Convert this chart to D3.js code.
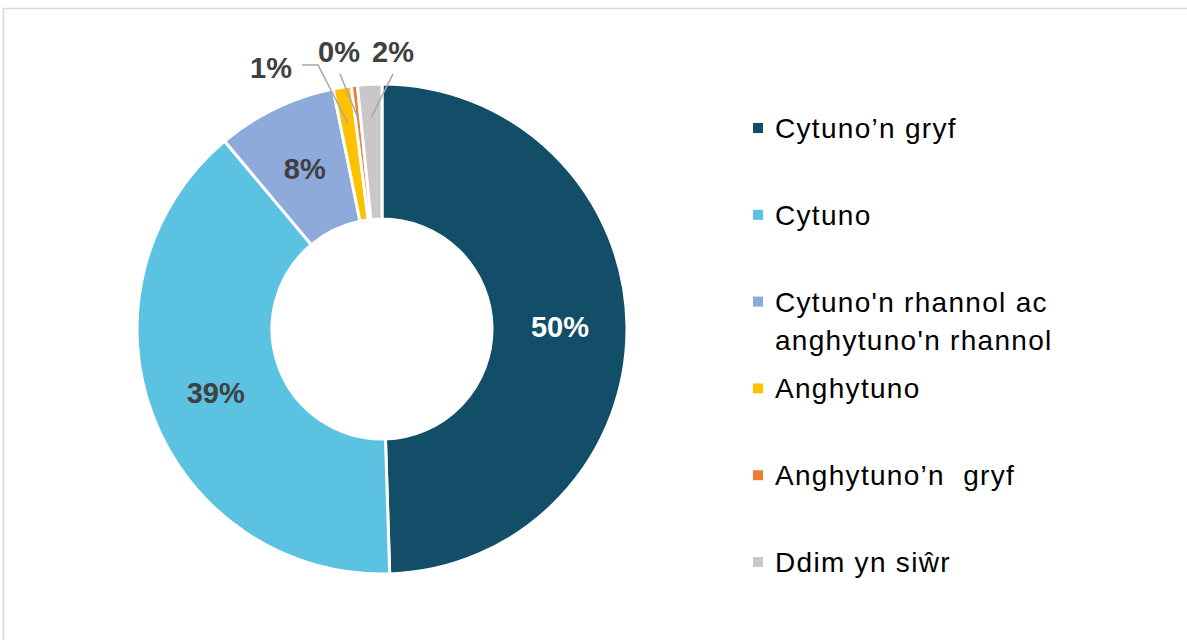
<!DOCTYPE html>
<html>
<head>
<meta charset="utf-8">
<script src="https://cdn.jsdelivr.net/npm/d3@7"></script>
<style>
  html, body { margin: 0; padding: 0; background: #fff; }
  svg { display: block; font-family: "Liberation Sans", Arial, sans-serif; }
</style>
</head>
<body>
<svg id="chart" width="1187" height="640"></svg>
<script>
// Data
const categories = [
  "Cytuno\u2019n gryf",
  "Cytuno",
  "Cytuno'n rhannol ac anghytuno'n rhannol",
  "Anghytuno",
  "Anghytuno\u2019n  gryf",
  "Ddim yn si\u0175r"
];
const legendLines = [
  ["Cytuno\u2019n gryf"],
  ["Cytuno"],
  ["Cytuno'n rhannol ac", "anghytuno'n rhannol"],
  ["Anghytuno"],
  ["Anghytuno\u2019n  gryf"],
  ["Ddim yn si\u0175r"]
];
const values = [49.5, 39.4, 7.9, 1.2, 0.4, 1.6];
const labels = ["50%", "39%", "8%", "1%", "0%", "2%"];
const colors = ["#134e69", "#5bc2e2", "#8eaadb", "#ffc000", "#ed7d31", "#c8c8c8"];

const svg = d3.select('#chart');

// chart frame
svg.append('rect')
  .attr('x', 3.5).attr('y', 8.5)
  .attr('width', 1300).attr('height', 800)
  .attr('fill', 'none')
  .attr('stroke', '#d9d9d9')
  .attr('stroke-width', 1.5);

const cx = 382, cy = 329;
const outerR = 245, innerR = 110;

const g = svg.append('g').attr('transform', `translate(${cx},${cy})`);

const pie = d3.pie().sort(null).value(d => d.value);
const arcs = pie(values.map((v, i) => ({ value: v, i })));

const arc = d3.arc().innerRadius(innerR).outerRadius(outerR);

g.selectAll('path.slice')
  .data(arcs)
  .join('path')
  .attr('class', 'slice')
  .attr('d', arc)
  .attr('fill', d => colors[d.data.i])
  .attr('stroke', '#fff')
  .attr('stroke-width', 3);

// inside labels for the big slices
const labelArc = d3.arc().innerRadius(178).outerRadius(178);
const insideFill = ['#ffffff', '#404040', '#404040'];
arcs.slice(0, 3).forEach((d, k) => {
  const [lx, ly] = labelArc.centroid(d);
  g.append('text')
    .attr('x', lx).attr('y', ly)
    .attr('dy', '0.36em')
    .attr('text-anchor', 'middle')
    .style('font-size', '29px')
    .style('font-weight', 'bold')
    .style('fill', insideFill[k])
    .text(labels[k]);
});

// outside labels with leader lines for the thin slices
const outside = [
  { i: 3, tx: 271, ty: 68, path: [[302, 65], [318, 65]], r: 208 },
  { i: 4, tx: 339, ty: 52, path: [[340, 74]], r: 212 },
  { i: 5, tx: 393, ty: 52, path: [[393, 74]], r: 212 }
];
outside.forEach(o => {
  const d = arcs[o.i];
  const mid = (d.startAngle + d.endAngle) / 2;
  const end = [cx + o.r * Math.sin(mid), cy - o.r * Math.cos(mid)];
  svg.append('path')
    .attr('d', d3.line()([...o.path, end]))
    .attr('fill', 'none')
    .attr('stroke', '#a6a6a6')
    .attr('stroke-width', 1.5);
  svg.append('text')
    .attr('x', o.tx).attr('y', o.ty)
    .attr('dy', '0.36em')
    .attr('text-anchor', 'middle')
    .style('font-size', '29px')
    .style('font-weight', 'bold')
    .style('fill', '#404040')
    .text(labels[o.i]);
});

// legend
const legendY = d3.scalePoint()
  .domain(d3.range(categories.length))
  .range([128, 562]);

const legend = svg.append('g');
legendLines.forEach((lines, i) => {
  const y = legendY(i);
  legend.append('rect')
    .attr('x', 753).attr('y', y - 5)
    .attr('width', 10).attr('height', 10)
    .attr('fill', colors[i]);
  lines.forEach((t, j) => {
    legend.append('text')
      .attr('x', 775).attr('y', y + j * 38)
      .attr('dy', '0.36em')
      .style('font-size', '28px')
      .style('letter-spacing', '1.3px')
      .style('white-space', 'pre')
      .style('fill', '#000')
      .text(t);
  });
});
</script>
</body>
</html>
